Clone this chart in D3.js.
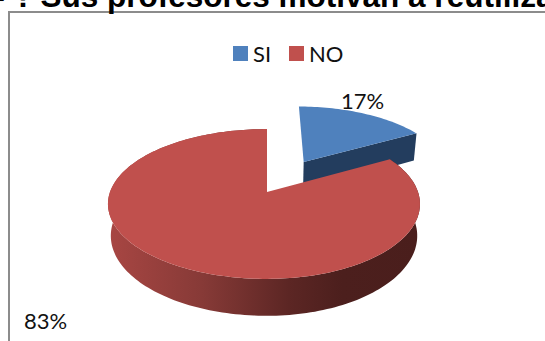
<!DOCTYPE html>
<html><head><meta charset="utf-8">
<script src="https://cdn.jsdelivr.net/npm/d3@7"></script>
<style>html,body{margin:0;padding:0;background:#fff}svg{display:block}text{font-family:"Liberation Sans",Arial,sans-serif}.c{font-family:Lato,sans-serif;fill:#111}</style>
</head><body><script>
const categories = ["SI","NO"];
const values = [17,83];
const labels = ["17%","83%"];
const colors = ["#4f81bd","#c0504d"];
const titleParts = ["▪","?","Sus profesores motivan a reutilizar"];

const W=545,H=341;
const svg=d3.select("body").append("svg").attr("width",W).attr("height",H);
const defs=svg.append("defs");
const g=defs.append("linearGradient").attr("id","redSide").attr("gradientUnits","userSpaceOnUse")
 .attr("x1",108).attr("x2",420).attr("y1",0).attr("y2",0);
[[0,"#a84643"],[.3,"#873a37"],[.58,"#5c2624"],[.75,"#4c1f1d"],[1,"#4a1e1c"]].forEach(s=>g.append("stop").attr("offset",s[0]).attr("stop-color",s[1]));

// frame + title
svg.append("rect").attr("x",9).attr("y",12).attr("width",560).attr("height",360).attr("fill","#fff").attr("stroke","#8c8c8c").attr("stroke-width",2);
const tx=d3.scaleOrdinal().domain(titleParts).range([-6,14,40.5]);
svg.selectAll("text.t").data(titleParts).join("text").attr("class","t")
  .attr("x",d=>tx(d)).attr("y",7).attr("font-size",31.5).attr("font-weight","bold").attr("fill","#000").text(d=>d);

// perspective projection of the pie's ground plane
const cx=267,cy=192,Rr=151,Rl=157,Ry=73,k=.16,depth=31;
const proj=(u,v,z=0)=>{const s=1/(1-k*v);return [cx+(u<0?Rl:Rr)*u*s*(1-.018*z),cy+Ry*v*s+z*depth*s];};
const arcs=d3.pie().sort(null).value(d=>d)(values);
const pts=(a,off,z)=>{const n=Math.max(2,Math.ceil((a.endAngle-a.startAngle)*40));
  return d3.range(n+1).map(i=>{const t=a.startAngle+(a.endAngle-a.startAngle)*i/n;
    return proj(off[0]+Math.sin(t),off[1]-Math.cos(t),z);});};
const line=d3.line();
const offsets=[[.26,-.44],[0,0]];

// blue slice
const a0=arcs[0],o0=offsets[0];
const apex=z=>proj(o0[0],o0[1],z);
const blueEnd=[o0[0]+Math.sin(a0.endAngle),o0[1]-Math.cos(a0.endAngle)];
svg.append("path").attr("fill","#233d5e").attr("d",line([apex(0),proj(blueEnd[0],blueEnd[1],0),proj(blueEnd[0],blueEnd[1],1),apex(1)])+"Z");
svg.append("path").attr("fill",colors[0]).attr("d",line([apex(0),...pts(a0,o0,0)])+"Z");

// red slice: side wall then top
const a1=arcs[1];
const rimTop=pts(a1,offsets[1],0), rimBot=pts(a1,offsets[1],1);
svg.append("path").attr("fill","url(#redSide)").attr("d",line([...rimTop,...rimBot.slice().reverse()])+"Z");
svg.append("path").attr("fill",colors[1]).attr("d",line([proj(0,0,0),...rimTop])+"Z");

// labels
svg.append("text").attr("class","c").attr("x",341).attr("y",109).attr("font-size",22).text(labels[0]);
svg.append("text").attr("class","c").attr("x",24).attr("y",329).attr("font-size",22).text(labels[1]);

// legend
const lx=d3.scaleOrdinal().domain(categories).range([233,289]);
categories.forEach((c,i)=>{
  svg.append("rect").attr("x",lx(c)).attr("y",46).attr("width",15).attr("height",15).attr("fill",colors[i]);
  svg.append("text").attr("class","c").attr("x",lx(c)+20).attr("y",61.5).attr("font-size",22).text(c);
});
</script></body></html>
